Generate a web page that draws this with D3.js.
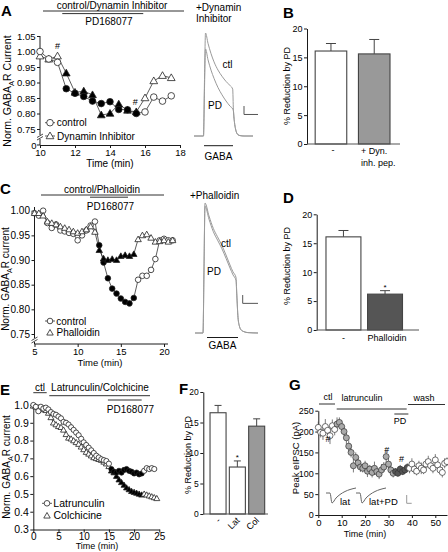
<!DOCTYPE html>
<html><head><meta charset="utf-8">
<script src="https://cdn.jsdelivr.net/npm/d3@7/dist/d3.min.js"></script>
<style>html,body{margin:0;padding:0;background:#fff}svg{display:block}</style>
</head><body>
<svg id="fig" width="448" height="552"></svg>
<script>
// ================= DATA =================
// Panel A – normalized GABA-A R current
const aTime = [10,10.5,11,11.5,12,12.5,13,13.5,14,14.5,15,15.5,16,16.5,17,17.5];
const aControl = [1.000,0.976,0.965,0.880,0.865,0.855,0.840,0.832,0.838,0.813,0.812,0.800,0.805,0.853,0.840,0.857];
const aDynamin = [0.985,0.975,0.985,0.930,0.868,0.872,0.860,0.795,0.800,0.830,0.810,0.805,0.850,0.905,0.922,0.915];
const aPdWindow = [11.5,15.5];
const aYTicks = [0.75,0.80,0.85,0.90,0.95,1.00,1.05];
const aXTicks = [10,12,14,16,18];
const aHashes = [[11,1.018],[15.45,0.838]];

// Panel A – current trace (+Dynamin inhibitor), arbitrary time / normalized amplitude
const trATime = [0,9.5,10.5,11.5,14,17,20,24,28,32,36,38.7,39.4,40.5,41.5,42.7,44,46,50,59];
const trACtl  = [0,0,0.55,1.0,0.90,0.80,0.72,0.64,0.58,0.53,0.49,0.455,0.25,0.13,0.07,0.03,0.012,0.004,0,0];
const trAPd   = [0,0,0.46,0.845,0.74,0.64,0.56,0.47,0.40,0.34,0.29,0.262,0.245,0.13,0.07,0.03,0.012,0.004,0,0];
const trAGaba = [10,39];
const trAScale = {t:[50,64], a:[0.209,0.291]};

// Panel B
const bCategories = ["-","+ Dyn.|inh. pep."];
const bMeans = [16.1,15.6];
const bErrors = [1.3,2.5];
const barYTicks = [0,5,10,15,20];

// Panel C
const cTime = [5,5.5,6,6.5,7,7.5,8,8.5,9,9.5,10,10.5,11,11.5,12,12.5,13,13.5,14,14.5,15,15.5,16,16.5,17,17.5,18,18.5,19,19.5,20,20.5,21];
const cControl = [0.995,0.99,1.0,0.975,0.965,0.972,0.96,0.958,0.955,0.953,0.94,0.95,0.96,0.97,0.978,
                  0.93,0.895,0.863,0.842,0.832,0.822,0.815,0.812,0.823,
                  0.86,0.868,0.868,0.88,0.902,0.94,0.943,0.94,0.94];
const cPhalloidin = [0.995,0.995,0.99,0.978,0.975,0.972,0.968,0.965,0.962,0.958,0.955,0.958,0.962,0.968,0.957,
                  0.92,0.903,0.90,0.902,0.90,0.908,0.91,0.908,0.912,
                  0.942,0.95,0.952,0.945,0.937,0.938,0.94,0.937,0.94];
const cPdWindow = [12.5,16.5];
const cYTicks = [0.75,0.80,0.85,0.90,0.95,1.00];
const cXTicks = [5,10,15,20];

// Panel C – trace (+Phalloidin)
const trCTime = [0,8,9,10,14,18.3,22.5,26.7,31,35,38,41,41.8,43,44.5,46,49,53,63];
const trCCtl  = [0,0,0.5,1.0,0.9,0.805,0.74,0.677,0.6,0.523,0.47,0.428,0.3,0.12,0.05,0.025,0.01,0.003,0];
const trCPd   = [0,0,0.48,0.975,0.875,0.78,0.715,0.652,0.575,0.5,0.447,0.405,0.29,0.12,0.05,0.025,0.01,0.003,0];
const trCGaba = [12,43];
const trCScale = {t:[47.7,63], a:[0.228,0.292]};

// Panel D
const dCategories = ["-","Phalloidin"];
const dMeans = [16.1,6.2];
const dErrors = [1.1,0.6];

// Panel E
const eTime = [0,0.5,1,1.5,2,2.5,3,3.5,4,4.5,5,5.5,6,6.5,7,7.5,8,8.5,9,9.5,10,10.5,11,11.5,12,12.5,13,13.5,14,14.5,15,15.5,16,16.5,17,17.5,18,18.5,19,19.5,20,20.5,21,21.5,22,22.5,23,23.5,24,24.5];
const eLatrunculin = [1.0,0.99,0.965,0.99,0.98,0.985,0.975,0.96,0.95,0.945,0.935,0.925,0.905,0.9,0.89,0.875,0.86,0.845,0.83,0.81,
                      0.79,0.775,0.76,0.745,0.73,0.715,0.705,0.695,0.69,0.685,0.67,0.64,0.625,0.62,0.63,0.62,0.635,0.64,0.63,0.625,
                      0.615,0.62,0.61,0.615,0.63,0.645,0.64,0.645,0.64];
const eColchicine = [0.995,0.99,0.985,0.98,0.975,0.97,0.955,0.93,0.9,0.89,0.88,0.875,0.86,0.835,0.815,0.81,0.8,0.79,0.78,0.765,
                     0.75,0.735,0.725,0.715,0.705,0.7,0.695,0.69,0.68,0.67,0.655,0.63,0.62,0.6,0.58,0.565,0.55,0.535,0.525,0.515,
                     0.51,0.505,0.5,0.495,0.5,0.495,0.49,0.485,0.48,0.475];
const ePdWindow = [15.5,21.5];
const eYTicks = [0.3,0.4,0.5,0.6,0.7,0.8,0.9,1.0];
const eXTicks = [0,5,10,15,20,25];

// Panel F
const fCategories = ["-","Lat","Col"];
const fMeans = [16.6,7.7,14.4];
const fErrors = [1.2,1.0,1.2];

// Panel G – peak eIPSC
const gTime = [0,1,2,3,4,5,6,7,8,9,10,11,12,13,14,15,16,17,18,19,20,21,22,23,24,25,26,27,28,29,30,31,32,33,34,35,36,37,38,39,40,41,42,43,44,45,46,47,48,49,50,51,52,53,54,55];
const gPeak = [210,198,196,212,203,190,214,205,218,222,212,200,185,165,150,118,138,125,115,112,118,105,110,102,112,104,98,108,115,140,
               122,108,100,104,100,110,104,108,114,112,122,110,105,118,112,108,122,128,118,112,132,120,108,102,124,128];
const gErr  = [14,12,16,18,12,20,15,14,16,12,14,12,15,14,12,16,12,14,12,10,12,14,10,12,16,10,12,14,12,16,
               14,12,10,8,8,10,8,8,10,12,14,12,10,12,14,10,12,14,10,12,14,12,10,12,12,10];
const gPhaseBreaks = [7.5,32.5,38.5];   // ctl | latrunculin | +PD | wash
const gYTicks = [0,50,100,150,200,250];
const gXTicks = [0,10,20,30,40,50];
const gHashes = [[4.1,182],[29.3,156],[35.6,134]];
const gTrTime = [0,4,6,10,14,19,24,30];
const gTrLat  = [0,0,-1,-0.5,-0.15,0.15,0.35,0.5];
const gTrLatPd= [0,0,-1,-0.5,-0.15,0.15,0.35,0.5];

// ================= DRAWING =================
const FONT = '"Liberation Sans", Arial, Helvetica, sans-serif';
const svg = d3.select("#fig").attr("font-family", FONT);
svg.append("rect").attr("width",448).attr("height",552).attr("fill","#fff");
const INK = "#1a1a1a";

function text(x,y,s,o={}){
  const t = svg.append("text").attr("x",x).attr("y",y).text(s)
    .attr("font-size",(o.size||10)).attr("text-anchor",o.anchor||"start").attr("fill",o.fill||"#000");
  if(o.weight) t.attr("font-weight",o.weight);
  if(o.rotate!==undefined) t.attr("transform",`rotate(${o.rotate},${x},${y})`);
  return t;
}
function line(x1,y1,x2,y2,o={}){
  return svg.append("line").attr("x1",x1).attr("y1",y1).attr("x2",x2).attr("y2",y2)
    .attr("stroke",o.color||INK).attr("stroke-width",o.w||1);
}
function axis(gen,tx,ty,size){
  const g = svg.append("g").attr("transform",`translate(${tx},${ty})`).call(gen);
  g.attr("font-family",FONT).attr("font-size",size);
  g.selectAll("line,path").attr("stroke",INK);
  g.selectAll("text").attr("fill","#000");
  return g;
}
function gabaLabel(x,y,suffix,size){
  const t = svg.append("text").attr("transform",`translate(${x},${y}) rotate(-90)`)
    .attr("text-anchor","middle").attr("font-size",size);
  t.append("tspan").text("Norm. GABA");
  t.append("tspan").text("A").attr("dy",size*0.3).attr("font-size",size*0.72);
  t.append("tspan").text("R "+suffix).attr("dy",-size*0.3);
}
function breakMark(x,y){
  svg.append("rect").attr("x",x-2).attr("y",y-2).attr("width",4).attr("height",4).attr("fill","#fff");
  line(x-3,y+0.5,x+3,y-3,{w:0.8});
  line(x-3,y+3,x+3,y-0.5,{w:0.8});
}
function tri(size){ return d3.symbol(d3.symbolTriangle,size)(); }
const TRI = 2.0;

function scatterPanel(xs,ys,times,vals,lw){
  const pts = vals.map((v,i)=>({t:times[i],v}));
  svg.append("path").datum(pts)
    .attr("d",d3.line().x(d=>xs(d.t)).y(d=>ys(d.v)))
    .attr("fill","none").attr("stroke","#333").attr("stroke-width",lw||0.8);
  return pts;
}
function markers(xs,ys,pts,shape,win,r){
  const fill = d=> (d.t>=win[0]-1e-9 && d.t<=win[1]+1e-9) ? "#000" : "#fff";
  if(shape==="circle"){
    svg.append("g").selectAll("circle").data(pts).join("circle")
      .attr("cx",d=>xs(d.t)).attr("cy",d=>ys(d.v)).attr("r",r)
      .attr("fill",fill).attr("stroke","#222").attr("stroke-width",0.8);
  } else {
    svg.append("g").selectAll("path").data(pts).join("path")
      .attr("d",tri(r*r*TRI)).attr("transform",d=>`translate(${xs(d.t)},${ys(d.v)+0.5})`)
      .attr("fill",fill).attr("stroke","#222").attr("stroke-width",0.8);
  }
}
function legendRow(x,y,shape,r,label,size,withLine){
  if(withLine) line(x-5,y,x+5,y,{w:0.8,color:"#333"});
  if(shape==="circle") svg.append("circle").attr("cx",x).attr("cy",y).attr("r",r).attr("fill","#fff").attr("stroke","#222").attr("stroke-width",0.8);
  else svg.append("path").attr("d",tri(r*r*TRI)).attr("transform",`translate(${x},${y+0.5})`).attr("fill","#fff").attr("stroke","#222").attr("stroke-width",0.8);
  text(x+r+3.5,y+3.5,label,{size});
}
function trace(xs,ys,times,vals,color){
  const pts = vals.map((v,i)=>({t:times[i],v}));
  svg.append("path").datum(pts).attr("d",d3.line().x(d=>xs(d.t)).y(d=>ys(d.v)).curve(d3.curveMonotoneX))
    .attr("fill","none").attr("stroke",color).attr("stroke-width",1);
}
function barPanel(o){
  const x = d3.scaleBand().domain(o.cats).range(o.xr).paddingInner(o.pi).paddingOuter(o.po).align(o.align);
  const y = d3.scaleLinear().domain([0,20]).range(o.yr);
  o.cats.forEach((c,i)=>{
    const cx = x(c)+x.bandwidth()/2;
    line(cx,y(o.means[i]),cx,y(o.means[i]+o.errs[i]),{w:1,color:"#444"});
    line(cx-o.cap,y(o.means[i]+o.errs[i]),cx+o.cap,y(o.means[i]+o.errs[i]),{w:1,color:"#444"});
  });
  svg.append("g").selectAll("rect").data(o.cats).join("rect")
    .attr("x",d=>x(d)).attr("width",x.bandwidth())
    .attr("y",(d,i)=>y(o.means[i])).attr("height",(d,i)=>y(0)-y(o.means[i]))
    .attr("fill",(d,i)=>o.fills[i]).attr("stroke","#444").attr("stroke-width",1.1);
  axis(d3.axisLeft(y).tickValues(barYTicks).tickSize(3).tickPadding(1.5).tickSizeOuter(0),o.xr[0],0,o.tick);
  line(o.xr[0],y(0),o.xEnd,y(0),{w:1.2,color:"#555"});
  return {x,y};
}

// ---------- Panel letters ----------
[["A",1,16],["B",283,18],["C",0,194],["D",283,203],["E",0,395],["F",179,394],["G",289,390]]
  .forEach(([s,x,y])=>text(x,y,s,{size:15,weight:"bold"}));

// ---------- Panel A ----------
{
  const xs = d3.scaleLinear().domain([10,18]).range([40,180]);
  const ys = d3.scaleLinear().domain([0.75,1.05]).range([129,36]);
  const base = 145;
  text(112,8.5,"control/Dynamin Inhibitor",{size:10,anchor:"middle"});
  line(43,11,184,11,{w:0.9});
  line(xs(aPdWindow[0])-4,13.6,xs(aPdWindow[1])+7,13.6,{w:0.9});
  text(109,24.5,"PD168077",{size:10,anchor:"middle"});
  axis(d3.axisLeft(ys).tickValues(aYTicks).tickFormat(d3.format(".2f")).tickSize(3).tickPadding(1.5).tickSizeOuter(0),40,0,9.5)
    .select(".domain").remove();
  line(40,ys(1.05),40,base,{w:1});
  line(37,base,40,base,{w:1});
  text(36.5,base+3.5,"0",{size:9.5,anchor:"end"});
  breakMark(40,137);
  axis(d3.axisBottom(xs).tickValues(aXTicks).tickSize(3).tickPadding(1).tickSizeOuter(0),0,base,9.5);
  text(110,166.5,"Time (min)",{size:10,anchor:"middle"});
  gabaLabel(11,91,"Current",10.5);
  const pc = scatterPanel(xs,ys,aTime,aControl);
  const pd = scatterPanel(xs,ys,aTime,aDynamin);
  markers(xs,ys,pd,"tri",aPdWindow,3.6);
  markers(xs,ys,pc,"circle",aPdWindow,3.3);
  aHashes.forEach(([t,v])=>text(xs(t),ys(v)+3,"#",{size:9,anchor:"middle"}));
  legendRow(50,122.7,"circle",3.3,"control",10,true);
  legendRow(50,136,"tri",3.6,"Dynamin Inhibitor",10,true);

  // trace
  const tx = d3.scaleLinear().domain([0,59]).range([194,253]);
  const ty = d3.scaleLinear().domain([0,1]).range([136,33]);
  text(196,10.5,"+Dynamin",{size:10});
  text(196,22,"Inhibitor",{size:10});
  trace(tx,ty,trATime,trACtl,"#9a9a9a");
  trace(tx,ty,trATime,trAPd,"#9a9a9a");
  text(227.5,68,"ctl",{size:10,anchor:"middle"});
  text(215,109,"PD",{size:10,anchor:"middle"});
  line(tx(trAScale.t[0]),ty(trAScale.a[1]),tx(trAScale.t[0]),ty(trAScale.a[0]),{w:1,color:"#555"});
  line(tx(trAScale.t[0]),ty(trAScale.a[0]),tx(trAScale.t[1]),ty(trAScale.a[0]),{w:1,color:"#555"});
  line(tx(trAGaba[0]),145.7,tx(trAGaba[1]),145.7,{w:1});
  text((tx(trAGaba[0])+tx(trAGaba[1]))/2,160,"GABA",{size:10,anchor:"middle"});
}

// ---------- Panel B ----------
{
  const {x,y} = barPanel({cats:bCategories,means:bMeans,errs:bErrors,fills:["#fff","#999"],
    xr:[307,400],yr:[144,28.5],pi:0.27,po:0.21,align:0.45,cap:5,xEnd:400,tick:9});
  svg.append("text").attr("transform",`translate(290,86) rotate(-90)`).attr("text-anchor","middle").attr("font-size",9).text("% Reduction by PD");
  text(x(bCategories[0])+x.bandwidth()/2+2,153,"-",{size:9,anchor:"middle"});
  const lines = bCategories[1].split("|");
  text(x(bCategories[1])+2.5,153.5,lines[0],{size:9});
  text(x(bCategories[1])+2.5,165.5,lines[1],{size:9});
}

// ---------- Panel C ----------
{
  const xs = d3.scaleLinear().domain([5,20]).range([34.5,164]);
  const ys = d3.scaleLinear().domain([0.75,1.0]).range([334,210.7]);
  const base = 344;
  text(102,192.5,"control/Phalloidin",{size:10,anchor:"middle"});
  line(41,195,164,195,{w:0.9});
  line(90,197.2,128,197.2,{w:0.9});
  text(110.5,209.5,"PD168077",{size:10,anchor:"middle"});
  axis(d3.axisLeft(ys).tickValues(cYTicks).tickFormat(d3.format(".2f")).tickSize(3).tickPadding(1.5).tickSizeOuter(0),34.5,0,10)
    .select(".domain").remove();
  line(34.5,207,34.5,base,{w:1});
  breakMark(34.5,340);
  axis(d3.axisBottom(xs).tickValues(cXTicks).tickSize(3).tickPadding(1).tickSizeOuter(0),0,base,9.5)
    .select(".domain").attr("d",`M34.5,0H168`);
  text(100,366,"Time (min)",{size:9.5,anchor:"middle"});
  gabaLabel(9,279,"current",10);
  const pc = scatterPanel(xs,ys,cTime,cControl);
  const pp = scatterPanel(xs,ys,cTime,cPhalloidin);
  markers(xs,ys,pc,"circle",cPdWindow,2.8);
  markers(xs,ys,pp,"tri",cPdWindow,3.0);
  legendRow(50,321,"circle",2.8,"control",10,true);
  legendRow(50,332.7,"tri",3.0,"Phalloidin",10,false);

  const tx = d3.scaleLinear().domain([0,63]).range([195,258]);
  const ty = d3.scaleLinear().domain([0,1]).range([333,203]);
  text(190,198.5,"+Phalloidin",{size:10});
  trace(tx,ty,trCTime,trCCtl,"#9a9a9a");
  trace(tx,ty,trCTime,trCPd,"#9a9a9a");
  text(226,247,"ctl",{size:10,anchor:"middle"});
  text(214,275,"PD",{size:10,anchor:"middle"});
  line(tx(trCScale.t[0]),ty(trCScale.a[1]),tx(trCScale.t[0]),ty(trCScale.a[0]),{w:1,color:"#555"});
  line(tx(trCScale.t[0]),ty(trCScale.a[0]),tx(trCScale.t[1]),ty(trCScale.a[0]),{w:1,color:"#555"});
  line(tx(trCGaba[0]),337.5,tx(trCGaba[1]),337.5,{w:1});
  text((tx(trCGaba[0])+tx(trCGaba[1]))/2,349,"GABA",{size:10,anchor:"middle"});
}

// ---------- Panel D ----------
{
  const {x,y} = barPanel({cats:dCategories,means:dMeans,errs:dErrors,fills:["#fff","#555"],
    xr:[316.7,419],yr:[330,214.3],pi:0.16,po:0.31,align:0.36,cap:5,xEnd:419,tick:9});
  svg.append("text").attr("transform",`translate(290,266) rotate(-90)`).attr("text-anchor","middle").attr("font-size",9).text("% Reduction by PD");
  text(x(dCategories[0])+x.bandwidth()/2,341,"-",{size:9,anchor:"middle"});
  text(x(dCategories[1])+x.bandwidth()/2+2,341,dCategories[1],{size:9,anchor:"middle"});
  text(x(dCategories[1])+x.bandwidth()/2,y(dMeans[1]+dErrors[1])-1,"*",{size:8,anchor:"middle"});
}

// ---------- Panel E ----------
{
  const xs = d3.scaleLinear().domain([0,25]).range([33.3,159.3]);
  const ys = d3.scaleLinear().domain([0.3,1.0]).range([529.5,405]);
  text(40,391,"ctl",{size:10,anchor:"middle"});
  line(33.3,392.7,46.7,392.7,{w:0.9});
  text(100,391,"Latrunculin/Colchicine",{size:10,anchor:"middle"});
  line(49.3,395.7,150,395.7,{w:0.9});
  line(xs(14.8),400,xs(21.5),400,{w:0.9});
  text(130.5,413,"PD168077",{size:10,anchor:"middle"});
  axis(d3.axisLeft(ys).tickValues(eYTicks).tickFormat(d3.format(".1f")).tickSize(3).tickPadding(1.5).tickSizeOuter(0),33.3,0,10.5);
  axis(d3.axisBottom(xs).tickValues(eXTicks).tickSize(3).tickPadding(0.3).tickSizeOuter(0),0,529.5,10);
  text(97,549,"Time (min)",{size:9,anchor:"middle"});
  gabaLabel(10,467,"current",10);
  const pl = scatterPanel(xs,ys,eTime.slice(0,eLatrunculin.length),eLatrunculin);
  const pcl = scatterPanel(xs,ys,eTime.slice(0,eColchicine.length),eColchicine);
  markers(xs,ys,pcl,"tri",ePdWindow,2.8);
  markers(xs,ys,pl,"circle",ePdWindow,2.6);
  legendRow(47,503.3,"circle",2.8,"Latrunculin",10.5,true);
  legendRow(47,515.7,"tri",3.0,"Colchicine",10.5,false);
}

// ---------- Panel F ----------
{
  const {x,y} = barPanel({cats:fCategories,means:fMeans,errs:fErrors,fills:["#fff","#fff","#999"],
    xr:[203.3,268],yr:[514,392],pi:0.17,po:0.26,align:0.67,cap:3.5,xEnd:268,tick:8.5});
  svg.append("text").attr("transform",`translate(191,455) rotate(-90)`).attr("text-anchor","middle").attr("font-size",9).text("% Reduction by PD");
  fCategories.forEach((c,i)=>{
    const cx = x(c)+x.bandwidth()/2+3, cy = 521;
    text(cx,cy,c,{size:9,anchor:"end",rotate:-45});
  });
  text(x(fCategories[1])+x.bandwidth()/2,y(fMeans[1]+fErrors[1])-1,"*",{size:8,anchor:"middle"});
}

// ---------- Panel G ----------
{
  const xs = d3.scaleLinear().domain([0,55]).range([318.3,447]);
  const ys = d3.scaleLinear().domain([0,250]).range([515,410.7]);
  text(328,400,"ctl",{size:9,anchor:"middle"});
  line(319,404,335,404,{w:0.9});
  text(362,401,"latrunculin",{size:9,anchor:"middle"});
  line(336.7,409,406.7,409,{w:0.9});
  text(424,401,"wash",{size:9,anchor:"middle"});
  line(408,404.5,445,404.5,{w:0.9});
  line(xs(gPhaseBreaks[1]),414,xs(gPhaseBreaks[2]),414,{w:0.9});
  text(400,424,"PD",{size:9,anchor:"middle"});
  axis(d3.axisLeft(ys).tickValues(gYTicks).tickSize(3).tickPadding(1.5).tickSizeOuter(0),318.3,0,9);
  axis(d3.axisBottom(xs).tickValues(gXTicks).tickSize(3).tickPadding(1).tickSizeOuter(0),0,515,9.5);
  text(365,537,"Time (min)",{size:9,anchor:"middle"});
  svg.append("text").attr("transform",`translate(298.5,458) rotate(-90)`).attr("text-anchor","middle").attr("font-size",9.5).text("Peak eIPSC (pA)");
  const pts = gPeak.map((v,i)=>({t:gTime[i],v,e:gErr[i]}));
  svg.append("g").selectAll("line").data(pts).join("line")
    .attr("x1",d=>xs(d.t)).attr("x2",d=>xs(d.t)).attr("y1",d=>ys(d.v-d.e)).attr("y2",d=>ys(d.v+d.e))
    .attr("stroke","#444").attr("stroke-width",0.7);
  const col = t => t<gPhaseBreaks[0]?"#fff":t<gPhaseBreaks[1]?"#aaa":t<gPhaseBreaks[2]?"#555":"#fff";
  svg.append("g").selectAll("circle").data(pts).join("circle")
    .attr("cx",d=>xs(d.t)).attr("cy",d=>ys(d.v)).attr("r",3)
    .attr("fill",d=>col(d.t)).attr("stroke","#333").attr("stroke-width",0.7);
  gHashes.forEach(([t,v])=>text(xs(t),ys(v)+3,"#",{size:9,anchor:"middle"}));
  // insets
  const t1 = d3.scaleLinear().domain([0,30]).range([326,356]);
  const t2 = d3.scaleLinear().domain([0,30]).range([356,386]);
  const ty = d3.scaleLinear().domain([-1,0]).range([503,493]);
  trace(t1,ty,gTrTime,gTrLat,"#666");
  trace(t2,ty,gTrTime,gTrLatPd,"#666");
  text(340,505,"lat",{size:9.5});
  text(369,505,"lat+PD",{size:9.5});
  line(406.7,495,406.7,503.3,{w:1,color:"#999"});
  line(406.7,503.3,411.7,503.3,{w:1,color:"#999"});
}
</script>
</body></html>
